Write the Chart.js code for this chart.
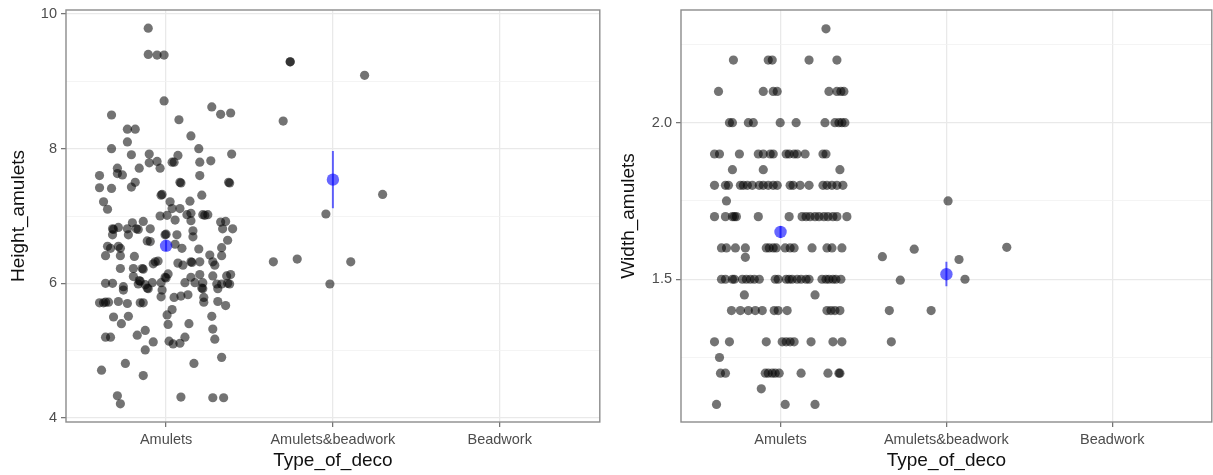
<!DOCTYPE html>
<html><head><meta charset="utf-8">
<script src="https://cdn.jsdelivr.net/npm/chart.js@4/dist/chart.umd.min.js"></script>
<style>
html,body{margin:0;padding:0;background:#fff;overflow:hidden;width:1213px;height:475px}
#left{position:absolute;left:0;top:0;width:606px;height:475px}
#right{position:absolute;left:606px;top:0;width:612px;height:475px}
</style></head><body>
<div id="left"><canvas id="c1"></canvas></div>
<div id="right"><canvas id="c2"></canvas></div>
<script>
// ---------- data ----------
const categories = ['Amulets', 'Amulets&beadwork', 'Beadwork'];

const heightAmulets = [9.79,9.40,9.39,9.39,8.71,8.50,8.43,8.62,8.51,8.53,8.29,8.29,8.10,8.19,8.00,8.00,
 7.91,7.92,7.90,7.92,7.79,7.81,7.80,7.80,7.80,7.82,7.71,7.71,7.71,7.60,7.63,7.61,7.60,
 7.42,7.41,7.43,7.50,7.50,7.49,7.50,7.49,7.31,7.32,7.31,7.21,7.21,7.22,7.10,7.11,7.11,7.00,7.01,7.02,7.04,7.02,7.01,7.02,
 6.94,6.93,6.91,6.92,6.90,6.92,6.81,6.80,6.83,6.81,6.81,6.80,6.81,6.72,6.73,6.72,6.78,6.69,6.81,6.81,
 6.72,6.72,6.63,6.62,6.58,6.52,6.55,6.52,6.55,6.52,6.41,6.41,6.40,6.32,6.33,6.51,6.42,6.53,6.41,6.64,6.30,6.27,6.32,6.31,6.32,6.32,6.27,
 6.22,6.22,6.22,6.21,6.29,6.14,6.09,6.08,6.09,6.13,6.11,6.11,6.13,6.10,6.04,6.03,5.98,6.00,6.00,5.95,6.01,6.01,6.01,6.01,6.01,5.99,5.99,5.99,
 5.90,5.99,5.93,5.92,5.90,5.93,5.92,5.92,6.00,5.80,5.79,5.81,5.83,5.79,5.71,5.71,5.72,5.72,5.73,5.70,5.71,5.71,5.72,5.73,5.67,
 5.50,5.51,5.40,5.53,5.61,5.39,5.40,5.51,5.32,5.17,5.20,5.20,5.23,5.30,5.13,5.01,5.14,5.10,5.11,5.20,
 4.90,4.81,4.81,4.71,4.63,4.33,4.21,4.31,4.30,4.30];
const heightAmuletsJitter = [-0.107,-0.107,-0.054,-0.012,-0.012,-0.327,0.077,0.274,0.327,0.387,-0.232,-0.185,-0.232,0.149,-0.327,0.196,
 -0.208,-0.101,0.071,0.393,-0.101,-0.054,0.036,0.048,0.202,0.268,-0.292,-0.161,-0.036,-0.399,-0.292,-0.262,0.202,
 -0.399,-0.327,-0.208,-0.185,0.083,0.089,0.375,0.381,-0.030,-0.024,0.214,-0.375,0.024,0.143,-0.351,0.036,0.083,-0.036,0.006,0.125,0.149,0.220,0.232,0.250,
 0.054,0.149,0.327,0.357,-0.202,-0.137,-0.321,-0.315,-0.286,-0.232,-0.179,-0.167,-0.095,-0.006,0.000,0.065,0.161,0.161,0.339,0.399,
 -0.321,-0.226,-0.113,-0.095,0.054,0.095,-0.351,-0.333,-0.286,-0.274,-0.363,-0.274,-0.190,-0.065,-0.048,0.196,0.262,0.333,0.333,0.369,0.071,0.101,0.149,0.155,0.202,0.280,0.292,
 -0.274,-0.196,-0.143,-0.137,-0.077,0.012,-0.006,0.000,0.149,0.202,0.280,0.363,0.387,-0.196,-0.161,-0.155,-0.125,-0.363,-0.321,-0.256,-0.083,-0.030,0.113,0.173,0.220,0.304,0.333,0.381,
 -0.256,-0.167,-0.113,-0.107,-0.024,0.214,0.220,0.310,0.369,-0.030,0.048,0.089,0.131,0.226,-0.399,-0.375,-0.363,-0.345,-0.286,-0.232,-0.155,-0.137,0.226,0.310,0.357,
 -0.315,-0.226,-0.268,0.006,0.036,0.012,0.137,0.274,0.280,0.292,-0.363,-0.333,-0.173,-0.125,-0.077,-0.125,0.018,0.042,0.083,0.113,
 0.333,-0.244,0.167,-0.387,-0.137,-0.292,-0.274,0.089,0.280,0.345];

const heightBeadwork = [9.29,9.29,8.41,9.09,7.32,7.03,6.32,5.99,6.36,6.32];
const heightBeadworkJitter = [-0.256,-0.256,-0.298,0.190,0.298,-0.042,0.107,-0.018,-0.214,-0.357];

const heightMean = [6.557, 7.54];
const heightLow  = [6.48, 7.116];
const heightHigh = [6.64, 7.967];

const widthAmulets = [2.3,
 2.2,2.2,2.2,2.2,2.2,
 2.1,2.1,2.1,2.1,2.1,2.1,2.1,2.1,
 2.0,2.0,2.0,2.0,2.0,2.0,2.0,2.0,2.0,2.0,2.0,
 1.9,1.9,1.9,1.9,1.9,1.9,1.9,1.9,1.9,1.9,1.9,1.9,1.9,1.9,
 1.85,1.85,1.85,
 1.8,1.8,1.8,1.8,1.8,1.8,1.8,1.8,1.8,1.8,1.8,1.8,1.8,1.8,1.8,1.8,1.8,1.8,1.8,1.8,1.8,
 1.75,
 1.7,1.7,1.7,1.7,1.7,1.7,1.7,1.7,1.7,1.7,1.7,1.7,1.7,1.7,1.7,1.7,1.7,
 1.6,1.6,1.6,1.6,1.6,1.6,1.6,1.6,1.6,1.6,1.6,1.6,1.6,1.6,1.6,
 1.57,
 1.5,1.5,1.5,1.5,1.5,1.5,1.5,1.5,1.5,1.5,1.5,1.5,1.5,1.5,1.5,1.5,1.5,1.5,1.5,1.5,1.5,1.5,1.5,1.5,
 1.45,1.45,
 1.4,1.4,1.4,1.4,1.4,1.4,1.4,1.4,1.4,1.4,1.4,1.4,
 1.3,1.3,1.3,1.3,1.3,1.3,1.3,1.3,1.3,1.3,
 1.25,
 1.2,1.2,1.2,1.2,1.2,1.2,1.2,1.2,1.2,1.2,1.2,
 1.15,
 1.1,1.1,1.1];
const widthAmuletsJitter = [0.274,
 -0.284,-0.074,-0.050,0.172,0.340,
 -0.374,-0.104,-0.044,-0.020,0.292,0.340,0.364,0.382,
 -0.308,-0.290,-0.194,-0.164,-0.002,0.094,0.268,0.328,0.352,0.370,0.388,
 -0.398,-0.368,-0.248,-0.134,-0.104,-0.062,-0.044,0.034,0.052,0.082,0.100,0.148,0.256,0.274,
 -0.290,-0.104,0.358,
 -0.398,-0.332,-0.314,-0.242,-0.224,-0.200,-0.170,-0.128,-0.104,-0.074,-0.044,-0.020,0.058,0.076,0.118,0.172,0.256,0.280,0.310,0.340,0.376,
 -0.326,
 -0.398,-0.332,-0.290,-0.278,-0.266,-0.134,0.052,0.130,0.154,0.178,0.208,0.232,0.262,0.286,0.316,0.340,0.400,
 -0.356,-0.326,-0.272,-0.212,-0.086,-0.068,-0.044,-0.026,0.028,0.058,0.082,0.190,0.280,0.310,0.370,
 -0.212,
 -0.356,-0.332,-0.290,-0.278,-0.230,-0.206,-0.182,-0.158,-0.128,-0.032,-0.014,0.034,0.052,0.070,0.100,0.124,0.154,0.172,0.250,0.274,0.292,0.316,0.334,0.364,
 -0.218,0.208,
 -0.296,-0.242,-0.194,-0.152,-0.110,-0.038,-0.014,0.040,0.280,0.304,0.328,0.358,
 -0.398,-0.308,-0.086,0.010,0.034,0.058,0.082,0.184,0.316,0.370,
 -0.368,
 -0.362,-0.332,-0.092,-0.074,-0.050,-0.032,-0.008,0.124,0.286,0.352,0.358,
 -0.116,
 -0.386,0.028,0.208];

const widthBeadwork = [1.572,1.497,1.40,1.30,1.596,1.40,1.75,1.563,1.50,1.602];
const widthBeadworkJitter = [-0.386,-0.278,-0.344,-0.332,-0.194,-0.092,0.010,0.076,0.112,0.364];

const widthMean = [1.651, 1.516];
const widthLow  = [1.632, 1.478];
const widthHigh = [1.670, 1.556];

const heightTicks = [4, 6, 8, 10];
const heightMinor = [5, 7, 9];
const heightTickLabels = ['4', '6', '8', '10'];
const widthTicks = [1.5, 2.0];
const widthMinor = [1.25, 1.75, 2.25];
const widthTickLabels = ['1.5', '2.0'];

// ---------- rendering ----------
const FONT = "'Liberation Sans', Arial, Helvetica, sans-serif";

const panelBorder = {
  id: 'panelBorder',
  afterDatasetsDraw(chart) {
    const {ctx, chartArea: a} = chart;
    ctx.save();
    ctx.strokeStyle = '#8c8c8c';
    ctx.lineWidth = 1.4;
    ctx.strokeRect(a.left, a.top, a.right - a.left, a.bottom - a.top);
    ctx.restore();
  }
};

function makeChart(id, o) {
  const pts = [];
  o.groups.forEach((g, gi) => {
    g.values.forEach((v, i) => pts.push({x: gi + 1 + g.jitter[i], y: v}));
  });
  const datasets = [
    {data: o.mean.map((m, i) => ({x: i + 1, y: m})), pointRadius: 6.2,
     backgroundColor: 'rgba(0,0,255,0.6)', borderWidth: 0, order: 0}
  ];
  o.mean.forEach((m, i) => {
    datasets.push({data: [{x: i + 1, y: o.low[i]}, {x: i + 1, y: o.high[i]}], showLine: true,
      borderColor: 'rgba(0,0,255,0.6)', borderWidth: 2, pointRadius: 0, order: 1});
  });
  datasets.push({data: pts, pointRadius: 4.6, backgroundColor: 'rgba(0,0,0,0.55)',
    borderWidth: 0, order: 2});

  const allY = o.yMajor.concat(o.yMinor).sort((a, b) => a - b);
  const isMajor = v => o.yMajor.some(t => Math.abs(t - v) < 1e-9);

  return new Chart(document.getElementById(id), {
    type: 'scatter',
    data: {datasets},
    plugins: [panelBorder],
    options: {
      responsive: true, maintainAspectRatio: false, animation: false, devicePixelRatio: 1,
      layout: {padding: {top: 10, right: o.padRight, left: 0, bottom: 0}},
      plugins: {legend: {display: false}, tooltip: {enabled: false}},
      scales: {
        x: {
          type: 'linear', min: 0.4, max: 3.6,
          afterBuildTicks: s => { s.ticks = categories.map((c, i) => ({value: i + 1})); },
          afterFit: s => { s.height = 53; s.paddingLeft = 0; s.paddingRight = 0; },
          ticks: {autoSkip: false, maxRotation: 0, padding: 4, color: '#4d4d4d',
            font: {family: FONT, size: 14.5},
            callback: v => categories[Math.round(v) - 1]},
          grid: {color: '#e9e9e9', lineWidth: 1.3, tickLength: 5, tickColor: '#6e6e6e', tickWidth: 1.2},
          border: {display: false},
          title: {display: true, text: 'Type_of_deco', color: '#111',
            font: {family: FONT, size: 19}, padding: {top: 0, bottom: 3.3}}
        },
        y: {
          type: 'linear', min: o.yMin, max: o.yMax,
          afterBuildTicks: s => { s.ticks = allY.map(v => ({value: v})); },
          afterFit: s => { s.width = o.yWidth; s.paddingTop = 0; s.paddingBottom = 0; },
          ticks: {autoSkip: false, padding: 4, color: '#4d4d4d',
            font: {family: FONT, size: 14.5},
            callback: v => { const k = o.yMajor.findIndex(t => Math.abs(t - v) < 1e-9); return k >= 0 ? o.yLabels[k] : ''; }},
          grid: {
            color: c => isMajor(c.tick.value) ? '#e9e9e9' : '#f1f1f1',
            lineWidth: c => isMajor(c.tick.value) ? 1.3 : 0.8,
            tickLength: 5,
            tickColor: c => isMajor(c.tick.value) ? '#6e6e6e' : 'rgba(0,0,0,0)',
            tickWidth: 1.2
          },
          border: {display: false},
          title: {display: true, text: o.yTitle, color: '#111',
            font: {family: FONT, size: 19}, padding: {top: o.titlePad, bottom: 0}}
        }
      }
    }
  });
}

makeChart('c1', {
  groups: [{values: heightAmulets, jitter: heightAmuletsJitter}, {values: heightBeadwork, jitter: heightBeadworkJitter}],
  mean: heightMean, low: heightLow, high: heightHigh,
  yMin: 3.94, yMax: 10.06, yMajor: heightTicks, yMinor: heightMinor, yLabels: heightTickLabels,
  yTitle: 'Height_amulets', yWidth: 66, padRight: 3, titlePad: 7.2
});
makeChart('c2', {
  groups: [{values: widthAmulets, jitter: widthAmuletsJitter}, {values: widthBeadwork, jitter: widthBeadworkJitter}],
  mean: widthMean, low: widthLow, high: widthHigh,
  yMin: 1.044, yMax: 2.36, yMajor: widthTicks, yMinor: widthMinor, yLabels: widthTickLabels,
  yTitle: 'Width_amulets', yWidth: 75, padRight: 4.3, titlePad: 11.2
});
</script>
</body></html>
